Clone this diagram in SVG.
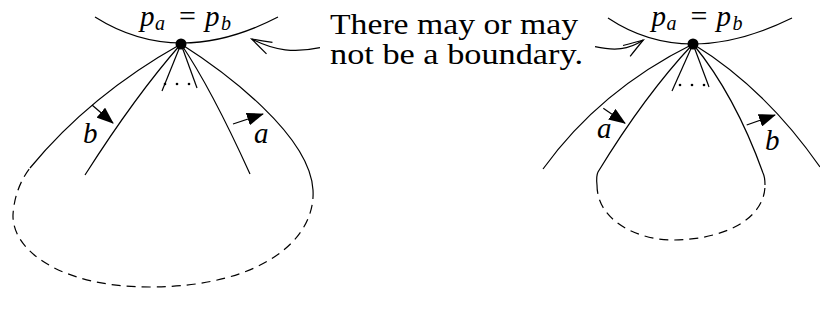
<svg xmlns="http://www.w3.org/2000/svg" width="820" height="320" viewBox="0 0 820 320">
  <style>
    .ln { fill: none; stroke: #000; stroke-width: 1.2; }
    .dash { fill: none; stroke: #000; stroke-width: 1.2; stroke-dasharray: 9 6; }
    .arr { fill: none; stroke: #000; stroke-width: 1.2; marker-end: url(#tri); }
    .note { fill: none; stroke: #000; stroke-width: 1.2; marker-end: url(#open); }
    text { font-family: 'Liberation Serif', serif; fill: #000; }
    .txt { font-size: 29px; }
    .mi { font-style: italic; font-size: 29px; }
    .sub { font-style: italic; font-size: 20px; }
    .eq { font-size: 30px; }
  </style>
  <defs>
    <marker id="tri" viewBox="0 0 17 13" refX="16" refY="6.5" markerWidth="17" markerHeight="13" markerUnits="userSpaceOnUse" orient="auto">
      <path d="M0,0 L17,6.5 L0,13 Z" fill="#000"/>
    </marker>
    <marker id="open" viewBox="-22 -10 24 20" refX="0" refY="0" markerWidth="24" markerHeight="20" markerUnits="userSpaceOnUse" orient="auto" overflow="visible">
      <path d="M-20,-6.5 Q-8,-2.5 0,0 Q-8,2.5 -20,6.5" fill="none" stroke="#000" stroke-width="1.2"/>
    </marker>
  </defs>

  <g id="left-figure">
    <path class="ln" d="M95,17 Q177.5,69 278,17"/>
    <path class="ln" d="M181,44 Q90,95 30,168"/>
    <path class="ln" d="M181,44 Q136,95 85,175"/>
    <path class="ln" d="M181,44 L162,91"/>
    <path class="ln" d="M181,44 L197,88"/>
    <path class="ln" d="M181,44 Q211,88 250,174"/>
    <path class="ln" d="M181,44 C225,72 310,135 313,190"/>
    <path class="dash" d="M313,190 C316,240 260,287 150,287 C60,287 12,250 13,215 C14,195 22,178 30,168"/>
    <circle cx="165" cy="84" r="1.3"/>
    <circle cx="177" cy="84" r="1.3"/>
    <circle cx="189" cy="84" r="1.3"/>
    <circle cx="181" cy="44" r="5.5"/>
    <g id="left-label">
      <text class="mi" x="140" y="26">p</text>
      <text class="sub" x="155" y="30">a</text>
      <text class="eq" x="179" y="26">=</text>
      <text class="mi" x="205" y="26">p</text>
      <text class="sub" x="221" y="30">b</text>
    </g>
    <text class="mi" x="83" y="143">b</text>
    <text class="mi" x="254" y="143">a</text>
  </g>

  <g id="right-figure">
    <path class="ln" d="M608,18 Q686,70 792,18"/>
    <path class="ln" d="M693,44 Q600,90 543,169"/>
    <path class="ln" d="M693,44 Q645,95 598,172 Q596,176 597,185"/>
    <path class="ln" d="M693,44 L672,91"/>
    <path class="ln" d="M693,44 L709,87"/>
    <path class="ln" d="M693,44 Q735,95 763,173 Q765,177 765,185"/>
    <path class="ln" d="M693,44 Q765,88 820,167"/>
    <path class="dash" d="M597,185 C597,222 640,240 672,240 C722,240 765,220 765,185"/>
    <circle cx="680" cy="85" r="1.3"/>
    <circle cx="692" cy="85" r="1.3"/>
    <circle cx="704" cy="85" r="1.3"/>
    <circle cx="693" cy="44" r="5.5"/>
    <g id="right-label">
      <text class="mi" x="651.5" y="26">p</text>
      <text class="sub" x="666.5" y="30">a</text>
      <text class="eq" x="690.5" y="26">=</text>
      <text class="mi" x="716.5" y="26">p</text>
      <text class="sub" x="732.5" y="30">b</text>
    </g>
    <text class="mi" x="597" y="138">a</text>
    <text class="mi" x="765" y="150">b</text>
  </g>

  <g id="note">
    <text class="txt" x="330" y="34" textLength="248" lengthAdjust="spacingAndGlyphs">There may or may</text>
    <text class="txt" x="330" y="64" textLength="253" lengthAdjust="spacingAndGlyphs">not be a boundary.</text>
  </g>

  <g id="connectors">
    <path class="arr" d="M92,105 L113,123"/>
    <path class="arr" d="M233,124 L263,114"/>
    <path class="arr" d="M603.3,108.3 L625,123.3"/>
    <path class="arr" d="M746.7,125 L775,115"/>
    <path class="note" d="M320,47.7 C295,53 275,51 251.7,39"/>
    <path class="note" d="M595,46.7 C615,51 628,50 643.3,40"/>
  </g>
</svg>
